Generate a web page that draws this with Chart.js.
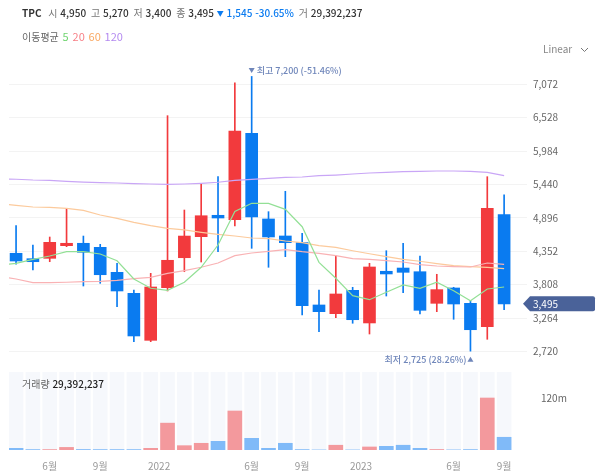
<!DOCTYPE html>
<html lang="ko">
<head>
<meta charset="utf-8">
<script src="https://cdn.jsdelivr.net/npm/chart.js@4/dist/chart.umd.js"></script>
<style>
  html, body { margin: 0; padding: 0; background: #fff; }
  body { width: 600px; height: 472px; overflow: hidden; position: relative;
         font-family: "Noto Sans CJK KR", "Noto Sans", sans-serif; font-size: 10px; color: #333; }
  canvas { position: absolute; left: 0; }
  #price { top: 0; }
  #volume { top: 365px; }
  .row { position: absolute; white-space: nowrap; line-height: 16px; z-index: 2; }
  .lbl { color: #777; margin-left: 2px; }
  .val { font-weight: 500; color: #333; }
  .tri { font-size: 7px; vertical-align: 1px; }
  .ma { font-size: 11px; margin-left: 1px; }
</style>
</head>
<body>
<div class="row" style="left:22px;top:5px">
  <b style="font-weight:700;margin-right:2px">TPC</b>
  <span class="lbl">시</span> <span class="val">4,950</span>
  <span class="lbl">고</span> <span class="val">5,270</span>
  <span class="lbl">저</span> <span class="val">3,400</span>
  <span class="lbl">종</span> <span class="val">3,495</span>
  <span style="color:#0a7bf0;font-weight:500"><span class="tri">▼</span> 1,545 -30.65%</span>
  <span class="lbl">거</span> <span class="val">29,392,237</span>
</div>
<div class="row" style="left:22px;top:28px;color:#666">
  이동평균 <span class="ma" style="color:#6fd46f">5</span> <span class="ma" style="color:#f77f86">20</span>
  <span class="ma" style="color:#f9a862">60</span> <span class="ma" style="color:#b48af0">120</span>
</div>
<div class="row" style="left:543px;top:41px;color:#888">Linear
  <svg width="9" height="6" style="margin-left:5px"><path d="M1 1l3.5 3.5L8 1" fill="none" stroke="#777"/></svg>
</div>
<div class="row" style="left:22px;top:376px;color:#666">거래량 <span style="color:#222;font-weight:500">29,392,237</span></div>
<canvas id="price" width="600" height="365"></canvas>
<canvas id="volume" width="600" height="107"></canvas>
<script>
var opens  = [4319,4231,4237,4443,4482,4416,4009,3667,2901,3759,4247,4590,4938,4866,6274,4878,4601,4492,3477,3335,3716,3184,4026,4079,4019,3504,3754,3504,3123,4950];
var closes = [4193,4182,4498,4482,4335,3970,3705,2972,3770,4205,4600,4931,4894,6311,4910,4585,4492,3465,3368,3656,3237,4096,3982,4009,3390,3727,3493,3074,5052,3495];
var highs  = [4769,4454,4584,5045,4600,4465,4156,3721,3993,6561,5024,5459,5567,7098,7200,4997,5329,4645,3721,4275,3765,4156,4361,4482,4275,3977,3765,3547,5567,5270];
var lows   = [4140,4047,4182,4427,3786,3830,3449,2879,2879,3705,4019,4177,4345,4764,4400,4091,4264,3314,3042,3270,3179,3004,3623,3677,3330,3368,3244,2725,2918,3400];

// first value of each MA is the month before the visible range
var ma5   = [4120,4156,4221,4275,4345,4345,4308,4198,3900,3749,3716,3847,4091,4454,5000,5133,5133,5035,4752,4172,3912,3628,3563,3684,3803,3749,3847,3710,3547,3737,3770];
var ma20  = [3945,3900,3840,3840,3847,3856,3863,3879,3905,3928,3993,4036,4091,4161,4280,4324,4351,4378,4345,4319,4280,4231,4221,4198,4177,4133,4112,4101,4096,4161,4140];
var ma60  = [5130,5100,5073,5068,5052,5019,4943,4889,4824,4769,4726,4699,4661,4628,4601,4568,4557,4519,4492,4443,4416,4361,4312,4264,4221,4189,4150,4117,4101,4091,4068];
var ma120 = [5533,5525,5513,5508,5492,5480,5469,5464,5453,5448,5443,5448,5459,5476,5508,5524,5541,5557,5562,5583,5594,5611,5627,5638,5648,5655,5660,5660,5655,5638,5583];

var volumes = [3.9,1,1,6,1.2,1,1,1,3.9,62,10,15.5,20,90,27,3.9,15.5,1,0.2,11,0.2,7,8.5,11,3.9,1.2,0.3,1,120,29.4];

var priceTicks = [2720,3264,3808,4352,4896,5440,5984,6528,7072];
var volumeTicks = [120];
var timeTicks = [2,5,8.5,14,17,20.5,26,29];
var timeLabels = ['6월','9월','2022','6월','9월','2023','6월','9월'];

var RED = '#f23a3d', BLUE = '#0a7bf0';
var FONT = '"Noto Sans CJK KR", "Noto Sans", sans-serif';
var idx = opens.map(function (_, i) { return i; });
var up = function (i) { return closes[i] >= opens[i]; };

function maLine(values, color) {
  return {
    type: 'line', order: 1, borderColor: color, borderWidth: 1.2, pointRadius: 0, tension: 0,
    data: values.map(function (v, i) { return {x: i - 1, y: v}; })
  };
}

// no room reserved for half a tick label, the plot has to sit at fixed pixels
function fitY(s) {
  s.width = 73;
  s.paddingTop = 0;
  s.paddingBottom = 0;
}

function triangle(c, x, y, down) {
  c.beginPath();
  c.moveTo(x - 3, down ? y - 2.5 : y + 2.5);
  c.lineTo(x + 3, down ? y - 2.5 : y + 2.5);
  c.lineTo(x, down ? y + 2.5 : y - 2.5);
  c.closePath();
  c.fill();
}

var priceOverlay = {
  id: 'priceOverlay',
  afterDatasetsDraw: function (chart) {
    var c = chart.ctx, x = chart.scales.x, y = chart.scales.y;
    var hx = x.getPixelForValue(14), hy = y.getPixelForValue(7200) - 6;
    var lx = x.getPixelForValue(27), ly = y.getPixelForValue(2725) + 8;
    c.save();
    c.font = '500 9px ' + FONT;
    c.fillStyle = '#6f86ba';
    c.textBaseline = 'middle';
    c.textAlign = 'left';
    triangle(c, hx, hy, true);
    c.fillText('최고 7,200 (-51.46%)', hx + 5, hy);
    c.textAlign = 'right';
    c.fillText('최저 2,725 (28.26%)', lx - 4, ly);
    triangle(c, lx, ly, false);

    // current price tag
    var py = y.getPixelForValue(closes[closes.length - 1]);
    c.fillStyle = '#4a6299';
    c.beginPath();
    c.moveTo(523, py);
    c.lineTo(530, py - 7.5);
    c.arcTo(595, py - 7.5, 595, py + 7.5, 2);
    c.arcTo(595, py + 7.5, 530, py + 7.5, 2);
    c.lineTo(530, py + 7.5);
    c.closePath();
    c.fill();
    c.fillStyle = '#fff';
    c.font = '10px ' + FONT;
    c.textAlign = 'left';
    c.fillText('3,495', 533, py);
    c.restore();
  }
};

new Chart(document.getElementById('price'), {
  type: 'bar',
  plugins: [priceOverlay],
  data: {
    datasets: [
      maLine(ma5, '#93e096'),
      maLine(ma20, '#f9b2b4'),
      maLine(ma60, '#fcca9c'),
      maLine(ma120, '#c9a6f6'),
      {
        order: 2, grouped: false, barThickness: 12,
        backgroundColor: idx.map(function (i) { return up(i) ? RED : BLUE; }),
        data: idx.map(function (i) { return {x: i, y: [opens[i], closes[i]]}; })
      },
      {
        order: 3, grouped: false, barThickness: 1,
        backgroundColor: idx.map(function (i) { return up(i) ? RED : BLUE; }),
        data: idx.map(function (i) { return {x: i, y: [lows[i], highs[i]]}; })
      }
    ]
  },
  options: {
    responsive: false, animation: false,
    layout: {padding: {left: 9, top: 60, bottom: 3}},
    plugins: {legend: {display: false}, tooltip: {enabled: false}},
    scales: {
      x: {type: 'linear', offset: false, min: -0.42, max: 30.36, display: false},
      y: {
        position: 'right', min: 2548, max: 7468,
        afterFit: fitY,
        afterBuildTicks: function (s) { s.ticks = priceTicks.map(function (v) { return {value: v}; }); },
        grid: {color: '#f3f3f3', drawTicks: false},
        border: {display: false},
        ticks: {
          color: '#666', padding: 6, font: {family: FONT, size: 10},
          callback: function (v) { return v.toLocaleString('en-US'); }
        }
      }
    }
  }
});

new Chart(document.getElementById('volume'), {
  type: 'bar',
  data: {
    datasets: [
      {
        order: 1, grouped: false, barThickness: 14,
        backgroundColor: idx.map(function (i) { return up(i) ? '#f3999d' : '#80baf8'; }),
        data: idx.map(function (i) { return {x: i, y: volumes[i]}; })
      },
      {
        order: 2, grouped: false, barThickness: 14, backgroundColor: '#f6f8fc',
        data: idx.map(function (i) { return {x: i, y: 180}; })
      }
    ]
  },
  options: {
    responsive: false, animation: false,
    layout: {padding: {left: 9, top: 7, bottom: 0}},
    plugins: {legend: {display: false}, tooltip: {enabled: false}},
    scales: {
      x: {
        type: 'linear', offset: false, min: -0.42, max: 30.36,
        afterFit: function (s) {
          s.height = 22;
          s.paddingLeft = 0;
          s.paddingRight = 0;
        },
        afterBuildTicks: function (s) { s.ticks = timeTicks.map(function (v) { return {value: v}; }); },
        grid: {display: false},
        border: {display: false},
        ticks: {
          autoSkip: false, maxRotation: 0, color: '#999', padding: 2, font: {family: FONT, size: 10},
          callback: function (v) { return timeLabels[timeTicks.indexOf(v)]; }
        }
      },
      y: {
        position: 'right', min: 0, max: 180,
        afterFit: fitY,
        afterBuildTicks: function (s) { s.ticks = volumeTicks.map(function (v) { return {value: v}; }); },
        grid: {display: false},
        border: {display: false},
        ticks: {
          color: '#666', padding: 6, font: {family: FONT, size: 10},
          callback: function (v) { return v + 'm'; }
        }
      }
    }
  }
});
</script>
</body>
</html>
